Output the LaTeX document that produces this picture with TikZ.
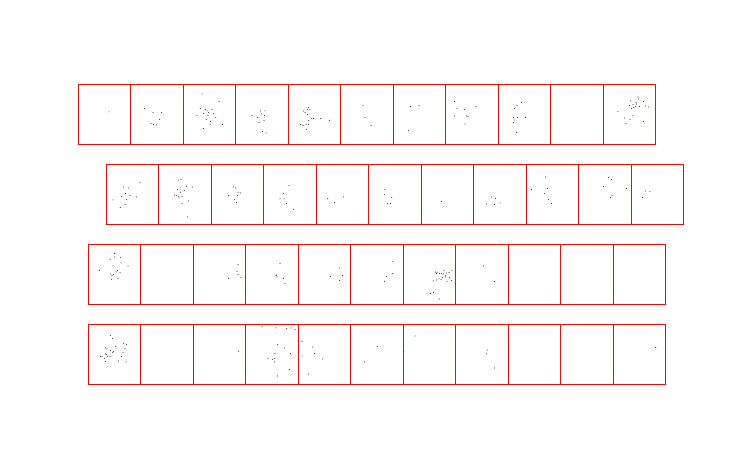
\documentclass[tikz,border=0pt]{standalone}

\begin{document}
\begin{tikzpicture}[x=1pt,y=-1pt]

	\useasboundingbox (0,0) rectangle (740,462);
	\def\W{52.5}
	\def\H{60}
	\foreach \left/\top in {78/84,106/164,88/244,88/324}
	\foreach \n in {0,...,10}
	\draw [red, line width=0.8pt] ({\left+\W*\n},\top) rectangle ++(\W,\H);

	\foreach \x/\y in {109/112,
		144.3/108.7,153/112.7,161.7/112.7,159.3/119.3,151/123.3,153.7/124.3,156.3/125,
		202/94,219/101.7,200.3/108.7,205.7/109.3,207/111,208.7/112.7,212/109.7,203.7/113.7,197/115.3,208/115.3,215.7/117.7,206.3/119.3,210.7/121.3,222.3/124.3,210/125,203.3/128.7,213.3/113.7,
		260.7/111,265/111,261.3/114,264.7/115.3,252/115.3,257.7/117.7,264/120.3,259/122.7,262.3/131.7,266/133,
		303.7/111,307.3/109.3,310/109.3,308.7/107.3,305/112.7,307.3/114.3,311.3/118.3,313.3/118.7,320.7/118.7,329.7/120.3,308.7/120.7,300.3/124.3,303/125.3,306/124.3,308.7/124.3,306.3/129.7,
		363/105.3,365/117.7,371/125.7,
		410.3/106.7,419/105.7,408.3/130.3,
		454.3/101.3,457/108.3,464.3/109.3,476/106.7,454.3/116,466.7/116,468/116.7,465/124,
		521.7/102.7,517/105.3,514.3/108.3,513.3/117.7,517.7/117.7,525.7/117.7,514/120,513.7/122.7,516.7/132.3,
		638/97,638.7/99,630.3/101,636/102.3,643.7/101.3,633/104.7,636.7/104,629.3/105.7,633.3/107.3,635.3/106.7,639.3/106.7,645.3/106,648.3/107,631.3/108.7,618/111.7,633/115.3,624.7/118,630/119.3,626/123.3,643.3/121.7}
	\fill ({\x},{\y}) circle (0.5pt);

	\foreach \x/\y in {140/182.7,123.3/187,128.7/188,125.3/193.7,121.7/196.7,130/195.7,136.3/197,126.7/199.7,113/200,125/204.7,120.3/207.7,
		178.3/180,181/179.7,186.3/186.3,192.3/187,180/188,177.7/189.7,184.3/190.7,180.7/192.3,176.3/195.3,178.3/196.3,182/196.3,174.7/195,179/198,188.3/201,182/203.3,187.3/217,
		233.7/187,235.7/188,238/192.7,240.3/193,228.7/195.7,237.3/195.7,234.7/199.7,236.7/202.3,
		289/185.7,283.3/193.7,280/199,284/199,286.3/203.7,293.7/209.7,
		327.7/198.7,334.3/202.3,343.3/197,
		385/189.7,384.7/194.3,391.7/197.7,387.3/203.7,390.3/203.3,
		441.7/201.7,
		491.7/197,495.3/198.3,486.7/204,494.3/204.3,500/203,
		545.7/177,531.7/189.7,547.7/188.3,544.3/193.3,548.3/199.3,551.3/203.3,
		608.3/177.3,611.3/179.3,603.3/186.7,626.3/188.3,610.7/197.3,612/195.7,
		645.3/191,650/191.7,642.3/197.3}
	\fill ({\x},{\y}) circle (0.5pt);

	\foreach \x/\y in {114.3/253.3,114.3/257,110/259.7,120.7/257.7,121/263,128/266,113/266,99.3/270.7,117.7/270.3,116/272,120/272.3,110.7/274,113.7/274.7,112/275.7,118/278.7,111.7/279.7,
		238/264.3,237/271.3,238/274.7,241/277.7,228.7/278.7,
		280/263.7,276.7/275,276/275.7,277/277,283.3/278.7,285/283.3,
		339.3/268,330.7/276.3,342.3/275.3,339.7/280.3,
		393/261.7,392.7/273.7,386.3/276.3,384.3/281.3,
		444/270.7,435.3/272,437/272.7,439.3/273.3,441.3/273.7,443.3/274,446.7/273,452/270.7,449/272.7,445.3/275.7,442.3/277.3,439/278.7,436.7/280,433.3/281,441/279.7,445.7/277,449.7/277.3,451.7/280.7,447/281.3,430.7/293.7,433.3/292.7,439.3/299,436.3/273.7,
		483.7/266,494.3/281.3}
	\fill ({\x},{\y}) circle (0.5pt);

	\foreach \x/\y in {110.3/335.7,112.7/338.3,123.3/343.3,126.3/344.3,115.7/346.7,105.3/348,107/349,125/348.7,110.7/350.7,113.7/351.7,112.7/352.3,123/352.7,105.7/354,106.3/354.7,107.7/356.3,110/356.3,102/356.3,100.7/356.3,104.7/358.3,121.3/356.3,118.3/361,105.7/361.7,126/362,
		238.7/351.3,
		262/326.3,276/328,286.3/328.7,291/328,295/329.3,277.7/344.7,284.7/348,290.7/353.7,275/353.3,268/358.7,272.3/359.3,274.7/358.3,274.3/362,289.7/369.7,277.7/376,
		302/341.7,312.7/347,314.3/353.3,322.3/359,302/356,308.7/374,
		377.7/346.7,364.3/362,
		403.7/351,415/336,
		487.3/350,486.7/354,494.3/368,
		655.7/347.3}
	\fill ({\x},{\y}) circle (0.5pt);

\end{tikzpicture}
\end{document}
